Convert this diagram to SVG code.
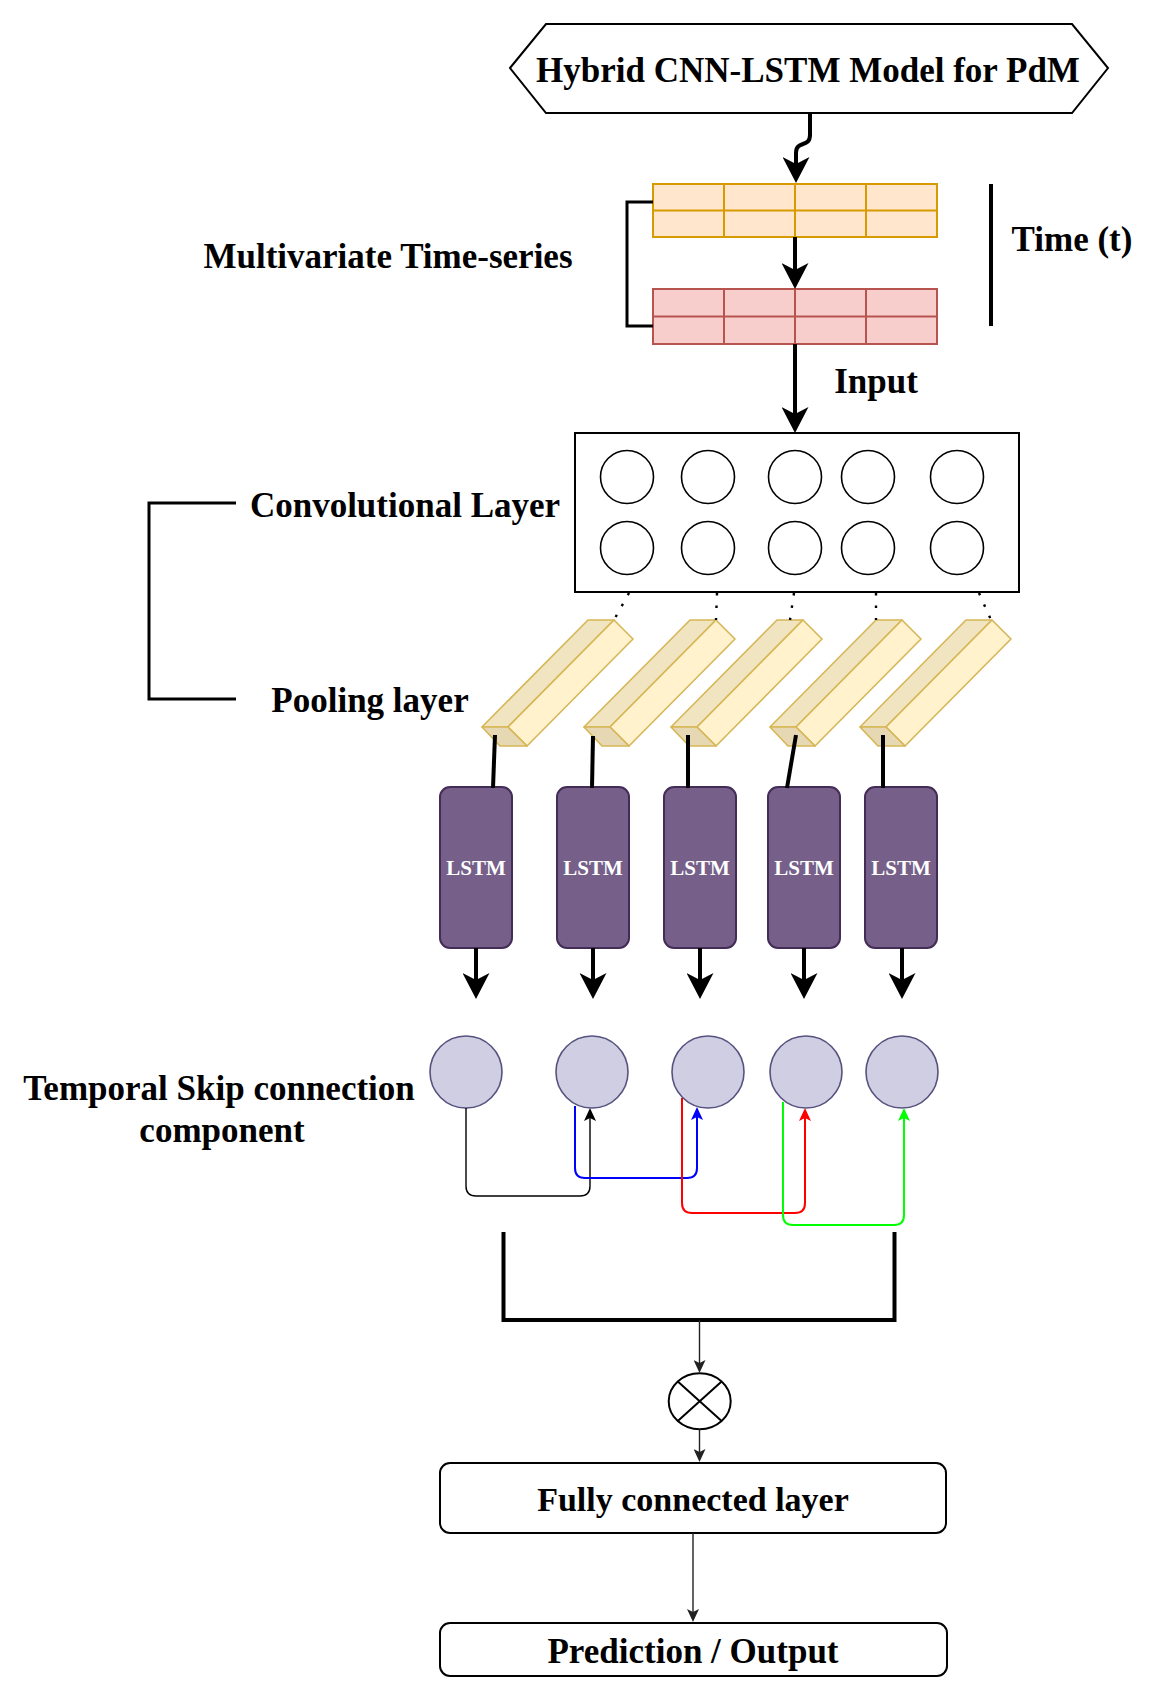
<svg xmlns="http://www.w3.org/2000/svg" xmlns:xlink="http://www.w3.org/1999/xlink" width="1154" height="1700" viewBox="0 0 1154 1700">
<style>
  .lbl { font-family: "Liberation Serif", "Times New Roman", serif; font-weight: bold; fill: #000; }
  .big { font-size: 35px; }
  .lstmt { font-family: "Liberation Serif", "Times New Roman", serif; font-weight: bold; font-size: 21px; fill: #ffffff; text-anchor: middle; }
  .thick { fill: none; stroke: #000; stroke-width: 4; }
  .thin { fill: none; stroke: #222; stroke-width: 1.4; }
  .lstm { fill: #76608a; stroke: #432d57; stroke-width: 2; }
  .skipc { fill: #d0cee2; stroke: #56517e; stroke-width: 1.6; }
  .convc { fill: #fff; stroke: #000; stroke-width: 1.6; }
  .dots { fill: none; stroke: #000; stroke-width: 2.4; stroke-dasharray: 2.5 10; }
  .cub { stroke: #d6b656; stroke-width: 1.6; stroke-linejoin: round; }
</style>
<defs>
  <marker id="mBig" viewBox="0 0 26 27" refX="7" refY="13.5" markerWidth="26" markerHeight="27" markerUnits="userSpaceOnUse" orient="auto">
    <path d="M0,0 L26,13.5 L0,27 L7,13.5 Z" fill="#000"/>
  </marker>
  <marker id="mThin" viewBox="0 0 13 12" refX="3" refY="6" markerWidth="13" markerHeight="12" markerUnits="userSpaceOnUse" orient="auto">
    <path d="M0,0 L13,6 L0,12 L3,6 Z" fill="#222"/>
  </marker>
  <marker id="mBlack" viewBox="0 0 13 12" refX="3" refY="6" markerWidth="13" markerHeight="12" markerUnits="userSpaceOnUse" orient="auto">
    <path d="M0,0 L13,6 L0,12 L3,6 Z" fill="#000"/>
  </marker>
  <marker id="mBlue" viewBox="0 0 13 12" refX="3" refY="6" markerWidth="13" markerHeight="12" markerUnits="userSpaceOnUse" orient="auto">
    <path d="M0,0 L13,6 L0,12 L3,6 Z" fill="#0000ff"/>
  </marker>
  <marker id="mRed" viewBox="0 0 13 12" refX="3" refY="6" markerWidth="13" markerHeight="12" markerUnits="userSpaceOnUse" orient="auto">
    <path d="M0,0 L13,6 L0,12 L3,6 Z" fill="#ff0000"/>
  </marker>
  <marker id="mGreen" viewBox="0 0 13 12" refX="3" refY="6" markerWidth="13" markerHeight="12" markerUnits="userSpaceOnUse" orient="auto">
    <path d="M0,0 L13,6 L0,12 L3,6 Z" fill="#00ff00"/>
  </marker>
  <g id="cuboid">
    <polygon class="cub" points="0,0 26,0 -80,107 -106,107" fill="#f0e4c1"/>
    <polygon class="cub" points="26,0 45,19 -61,126 -80,107" fill="#fff2cc"/>
    <polygon class="cub" points="-106,107 -80,107 -61,126 -88,126" fill="#e6d8b2"/>
  </g>
  <rect id="lstmBox" class="lstm" x="0" y="0" width="72" height="161" rx="10" ry="10"/>
</defs>

<rect width="1154" height="1700" fill="#ffffff"/>

<!-- Title -->
<g id="title">
  <polygon points="510,68 546,24 1072,24 1108,68 1072,113 546,113" fill="#fff" stroke="#000" stroke-width="2"/>
  <text class="lbl big" x="808" y="82" text-anchor="middle">Hybrid CNN-LSTM Model for PdM</text>
</g>

<!-- Time-series tables -->
<g id="table-orange">
  <rect x="653" y="184" width="284" height="53" fill="#ffe6cc" stroke="#d79b00" stroke-width="2"/>
  <path d="M653,210.5 H937 M724,184 V237 M795,184 V237 M866,184 V237" stroke="#d79b00" stroke-width="2" fill="none"/>
</g>
<g id="table-red">
  <rect x="653" y="289" width="284" height="55" fill="#f8cecc" stroke="#b85450" stroke-width="2"/>
  <path d="M653,316.5 H937 M724,289 V344 M795,289 V344 M866,289 V344" stroke="#b85450" stroke-width="2" fill="none"/>
</g>
<g id="ts-bracket">
  <path d="M653,202 H627 V326 H653" fill="none" stroke="#000" stroke-width="3"/>
</g>
<g id="label-mts">
  <text class="lbl big" x="388" y="268" text-anchor="middle">Multivariate Time-series</text>
</g>
<g id="time-axis">
  <line x1="991" y1="184" x2="991" y2="326" stroke="#000" stroke-width="4"/>
  <text class="lbl big" x="1072" y="251" text-anchor="middle">Time (t)</text>
</g>
<g id="label-input">
  <text class="lbl big" x="876" y="393" text-anchor="middle">Input</text>
</g>

<!-- Convolutional layer -->
<g id="conv-layer">
  <rect x="575" y="433" width="444" height="159" fill="#fff" stroke="#000" stroke-width="2"/>
  <ellipse class="convc" cx="627" cy="477" rx="26.5" ry="26.5"/>
  <ellipse class="convc" cx="708" cy="477" rx="26.5" ry="26.5"/>
  <ellipse class="convc" cx="795" cy="477" rx="26.5" ry="26.5"/>
  <ellipse class="convc" cx="868" cy="477" rx="26.5" ry="26.5"/>
  <ellipse class="convc" cx="957" cy="477" rx="26.5" ry="26.5"/>
  <ellipse class="convc" cx="627" cy="548" rx="26.5" ry="26.5"/>
  <ellipse class="convc" cx="708" cy="548" rx="26.5" ry="26.5"/>
  <ellipse class="convc" cx="795" cy="548" rx="26.5" ry="26.5"/>
  <ellipse class="convc" cx="868" cy="548" rx="26.5" ry="26.5"/>
  <ellipse class="convc" cx="957" cy="548" rx="26.5" ry="26.5"/>
</g>
<g id="label-conv">
  <text class="lbl big" x="405" y="517" text-anchor="middle">Convolutional Layer</text>
</g>
<g id="label-pool">
  <text class="lbl big" x="370" y="712" text-anchor="middle">Pooling layer</text>
</g>
<g id="conv-pool-bracket">
  <path d="M236,503 H149 V699 H236" fill="none" stroke="#000" stroke-width="3"/>
</g>

<!-- Pooling cuboids -->
<g id="pool-1"><use xlink:href="#cuboid" href="#cuboid" transform="translate(588,620)"/></g>
<g id="pool-2"><use xlink:href="#cuboid" href="#cuboid" transform="translate(690,620)"/></g>
<g id="pool-3"><use xlink:href="#cuboid" href="#cuboid" transform="translate(777,620)"/></g>
<g id="pool-4"><use xlink:href="#cuboid" href="#cuboid" transform="translate(876,620)"/></g>
<g id="pool-5"><use xlink:href="#cuboid" href="#cuboid" transform="translate(966,620)"/></g>

<!-- LSTM cells -->
<g id="lstm-1"><use xlink:href="#lstmBox" href="#lstmBox" x="440" y="787"/><text class="lstmt" x="476" y="875">LSTM</text></g>
<g id="lstm-2"><use xlink:href="#lstmBox" href="#lstmBox" x="557" y="787"/><text class="lstmt" x="593" y="875">LSTM</text></g>
<g id="lstm-3"><use xlink:href="#lstmBox" href="#lstmBox" x="664" y="787"/><text class="lstmt" x="700" y="875">LSTM</text></g>
<g id="lstm-4"><use xlink:href="#lstmBox" href="#lstmBox" x="768" y="787"/><text class="lstmt" x="804" y="875">LSTM</text></g>
<g id="lstm-5"><use xlink:href="#lstmBox" href="#lstmBox" x="865" y="787"/><text class="lstmt" x="901" y="875">LSTM</text></g>

<!-- Temporal skip nodes -->
<g id="skip-1"><ellipse class="skipc" cx="466" cy="1072" rx="36" ry="36"/></g>
<g id="skip-2"><ellipse class="skipc" cx="592" cy="1072" rx="36" ry="36"/></g>
<g id="skip-3"><ellipse class="skipc" cx="708" cy="1072" rx="36" ry="36"/></g>
<g id="skip-4"><ellipse class="skipc" cx="806" cy="1072" rx="36" ry="36"/></g>
<g id="skip-5"><ellipse class="skipc" cx="902" cy="1072" rx="36" ry="36"/></g>
<g id="label-skip">
  <text class="lbl big" x="219" y="1100" text-anchor="middle">Temporal Skip connection</text>
  <text class="lbl big" x="222" y="1142" text-anchor="middle">component</text>
</g>

<!-- Aggregation bracket and product -->
<g id="merge-bracket">
  <path d="M503.5,1232 V1320 H894.5 V1232" fill="none" stroke="#000" stroke-width="4"/>
</g>
<g id="product">
  <ellipse cx="699.7" cy="1401.3" rx="31" ry="28" fill="#fff" stroke="#000" stroke-width="2"/>
  <path d="M677.8,1381.5 L721.6,1421.1 M721.6,1381.5 L677.8,1421.1" stroke="#000" stroke-width="2" fill="none"/>
</g>
<g id="fc-layer">
  <rect x="440" y="1463" width="506" height="70" rx="10" ry="10" fill="#fff" stroke="#000" stroke-width="2"/>
  <text class="lbl" x="693" y="1511" text-anchor="middle" font-size="34">Fully connected layer</text>
</g>
<g id="output">
  <rect x="440" y="1623" width="507" height="53" rx="10" ry="10" fill="#fff" stroke="#000" stroke-width="2"/>
  <text class="lbl big" x="693" y="1663" text-anchor="middle">Prediction / Output</text>
</g>

<!-- Connectors -->
<g id="connectors">
  <path class="thick" d="M810,113 L810,135 C810,148 796,140 796,153 L796,164" marker-end="url(#mBig)"/>
  <path class="thick" d="M795,237 L795,270" marker-end="url(#mBig)"/>
  <path class="thick" d="M795,344 L795,414" marker-end="url(#mBig)"/>

  <path class="dots" d="M629,593 L614,620"/>
  <path class="dots" d="M717,593 L716,620"/>
  <path class="dots" d="M794,593 L790,620"/>
  <path class="dots" d="M876,593 L876,620"/>
  <path class="dots" d="M979,593 L991,620"/>

  <path class="thick" d="M495,735 L493,788"/>
  <path class="thick" d="M593,736 L592,788"/>
  <path class="thick" d="M688,735 L688,788"/>
  <path class="thick" d="M796,735 L787,788"/>
  <path class="thick" d="M883,735 L883,788"/>

  <path class="thick" d="M476,948 L476,980" marker-end="url(#mBig)"/>
  <path class="thick" d="M593,948 L593,980" marker-end="url(#mBig)"/>
  <path class="thick" d="M700,948 L700,980" marker-end="url(#mBig)"/>
  <path class="thick" d="M804,948 L804,980" marker-end="url(#mBig)"/>
  <path class="thick" d="M902,948 L902,980" marker-end="url(#mBig)"/>

  <path d="M466,1108 L466,1186 Q466,1196 476,1196 L580,1196 Q590,1196 590,1186 L590,1118" fill="none" stroke="#000" stroke-width="1.4" marker-end="url(#mBlack)"/>
  <path d="M575,1106 L575,1168 Q575,1178 585,1178 L687,1178 Q697,1178 697,1168 L697,1117" fill="none" stroke="#0000ff" stroke-width="2" marker-end="url(#mBlue)"/>
  <path d="M682,1098 L682,1203 Q682,1213 692,1213 L795,1213 Q805,1213 805,1203 L805,1118" fill="none" stroke="#ff0000" stroke-width="2" marker-end="url(#mRed)"/>
  <path d="M783,1102 L783,1215 Q783,1225 793,1225 L894,1225 Q904,1225 904,1215 L904,1118" fill="none" stroke="#00ff00" stroke-width="2" marker-end="url(#mGreen)"/>

  <path class="thin" d="M699.5,1320 L699.5,1363" marker-end="url(#mThin)"/>
  <path class="thin" d="M699.5,1429 L699.5,1452" marker-end="url(#mThin)"/>
  <path class="thin" d="M693,1533 L693,1612" marker-end="url(#mThin)"/>
</g>
</svg>
